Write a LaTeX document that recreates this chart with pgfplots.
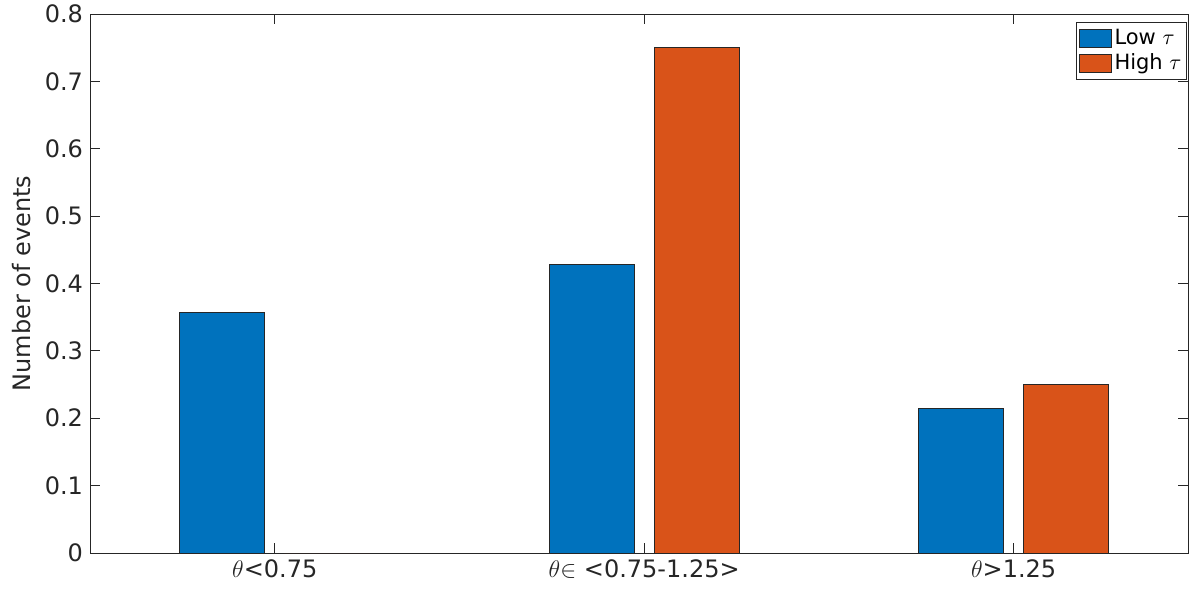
\documentclass[border=0pt]{standalone}
\usepackage{fontspec}
\setmainfont{DejaVu Sans}
\usepackage{pgfplots}
\pgfplotsset{compat=1.18}
\definecolor{mblue}{RGB}{0,114,189}
\definecolor{morange}{RGB}{217,83,25}
\definecolor{axgray}{RGB}{38,38,38}
\begin{document}
\begin{tikzpicture}
\path[use as bounding box] (-45pt,-24pt) rectangle (555pt,276.5pt);
\begin{axis}[
  scale only axis,
  width=549pt, height=269.5pt,
  xmin=0.5, xmax=3.472,
  ymin=0, ymax=0.8,
  xtick={1,2,3},
  xticklabels={{$\theta$<0.75},{$\theta{\in}$ <0.75-1.25>},{$\theta$>1.25}},
  ytick={0,0.1,...,0.8},
  yticklabel style={/pgf/number format/fixed,/pgf/number format/precision=1},
  /pgf/number format/assume math mode=true,
  tick label style={font=\fontsize{12}{14}\selectfont, text=axgray},
  ylabel={Number of events},
  ylabel style={font=\fontsize{12}{14}\selectfont, text=axgray},
  axis line style={axgray, line width=0.4pt},
  tick style={axgray, line width=0.4pt},
  tick align=inside,
  major tick length=5pt,
  legend style={at={(rel axis cs:0.999,0.985)}, anchor=north east, draw=axgray,
    font=\fontsize{10.5}{13}\selectfont, inner xsep=1pt, inner ysep=2pt, row sep=0pt,
    legend cell align=left, nodes={inner sep=1.5pt}},
  legend image code/.code={\draw[#1, draw=axgray] (0pt,-4.6pt) rectangle (16pt,4.6pt);},
]
\addplot[ybar, bar width=0.230, bar shift=-0.142, fill=mblue, draw=axgray, line width=0.4pt]
  coordinates {(1,0.3571) (2,0.4286) (3,0.2143)};
\addlegendentry{Low $\tau$}
\addplot[ybar, bar width=0.230, bar shift=0.142, fill=morange, draw=axgray, line width=0.4pt]
  coordinates {(1,0) (2,0.75) (3,0.25)};
\addlegendentry{High $\tau$}
\end{axis}
\end{tikzpicture}
\end{document}
